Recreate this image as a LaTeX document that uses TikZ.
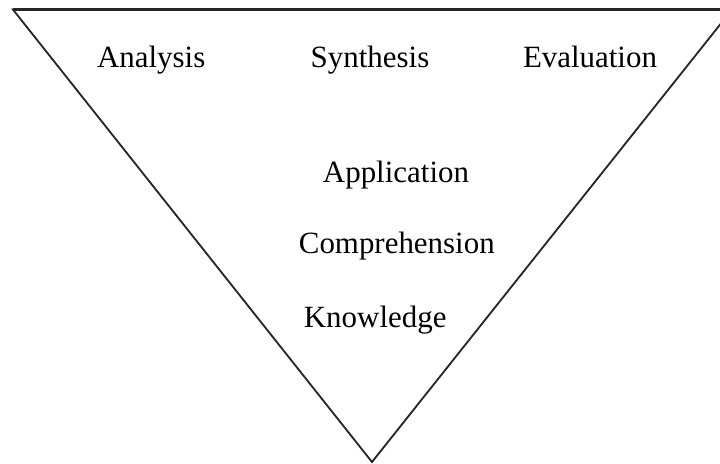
\documentclass[tikz,border=0pt]{standalone}
\usepackage{fontspec}
\setmainfont{Liberation Serif}
\colorlet{edgeGray}{black!85}

\begin{document}
\begin{tikzpicture}[
    edge/.style={line width=1.3pt, draw=edgeGray},
    level/.style={anchor=base, inner sep=0, font=\fontsize{22}{26}\selectfont},
  ]
  \useasboundingbox (0,0) rectangle (18,11.6);
  \clip (0,0) rectangle (18,11.6);

  \coordinate (TL) at (0.325,11.36);
  \coordinate (TR) at (18.3,11.36);
  \coordinate (B) at (9.3,0.05);

  \draw[edge, line join=miter] (TL) -- (TR) -- (B) -- cycle;
  \draw[edge, line width=2.2pt] (TL) -- (TR);

  \node[level] (analysis) at (3.78,9.9) {Analysis};
  \node[level] (synthesis) at (9.25,9.9) {Synthesis};
  \node[level] (evaluation) at (14.75,9.9) {Evaluation};

  \node[level] (application) at (9.9,7.03) {Application};
  \node[level] (comprehension) at (9.92,5.27) {Comprehension};
  \node[level] (knowledge) at (9.38,3.4) {Knowledge};
\end{tikzpicture}
\end{document}
